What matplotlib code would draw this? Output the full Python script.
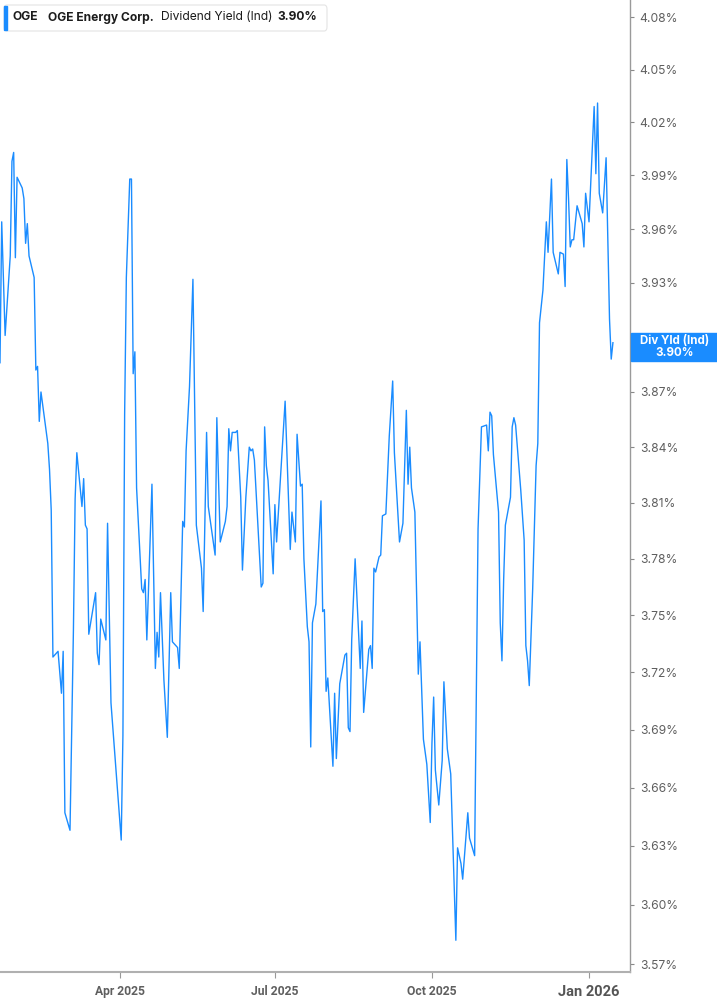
import matplotlib
matplotlib.use("Agg")
import matplotlib.pyplot as plt
import matplotlib.dates as mdates
import numpy as np
import pandas as pd
from matplotlib.patches import Rectangle, FancyBboxPatch
from matplotlib.ticker import FixedLocator, NullLocator

# dividend yield (ind)
dates = [
    "2025-01-21", "2025-01-22", "2025-01-24", "2025-01-27", "2025-01-28", "2025-01-29", "2025-01-30", "2025-01-31",
    "2025-02-03", "2025-02-04", "2025-02-05", "2025-02-06", "2025-02-07", "2025-02-10", "2025-02-11", "2025-02-12",
    "2025-02-13", "2025-02-14", "2025-02-18", "2025-02-19", "2025-02-20", "2025-02-21", "2025-02-24", "2025-02-26",
    "2025-02-27", "2025-02-28", "2025-03-03", "2025-03-05", "2025-03-06", "2025-03-07", "2025-03-10", "2025-03-11",
    "2025-03-12", "2025-03-13", "2025-03-14", "2025-03-18", "2025-03-19", "2025-03-20", "2025-03-21", "2025-03-24",
    "2025-03-25", "2025-03-27", "2025-04-02", "2025-04-03", "2025-04-04", "2025-04-05", "2025-04-07", "2025-04-08",
    "2025-04-09", "2025-04-10", "2025-04-11", "2025-04-14", "2025-04-15", "2025-04-16", "2025-04-17", "2025-04-20",
    "2025-04-22", "2025-04-23", "2025-04-24", "2025-04-25", "2025-04-27", "2025-04-29", "2025-05-01", "2025-05-02",
    "2025-05-05", "2025-05-06", "2025-05-08", "2025-05-09", "2025-05-10", "2025-05-12", "2025-05-14", "2025-05-16",
    "2025-05-19", "2025-05-20", "2025-05-22", "2025-05-23", "2025-05-27", "2025-05-28", "2025-05-30", "2025-06-02",
    "2025-06-03", "2025-06-04", "2025-06-05", "2025-06-06", "2025-06-08", "2025-06-09", "2025-06-11", "2025-06-12",
    "2025-06-14", "2025-06-16", "2025-06-17", "2025-06-18", "2025-06-19", "2025-06-23", "2025-06-24", "2025-06-25",
    "2025-06-26", "2025-06-27", "2025-06-30", "2025-07-01", "2025-07-02", "2025-07-07", "2025-07-10", "2025-07-11",
    "2025-07-13", "2025-07-14", "2025-07-16", "2025-07-17", "2025-07-18", "2025-07-20", "2025-07-21", "2025-07-22",
    "2025-07-23", "2025-07-25", "2025-07-28", "2025-07-29", "2025-07-30", "2025-07-31", "2025-08-01", "2025-08-04",
    "2025-08-05", "2025-08-06", "2025-08-08", "2025-08-11", "2025-08-12", "2025-08-13", "2025-08-14", "2025-08-15",
    "2025-08-17", "2025-08-20", "2025-08-21", "2025-08-22", "2025-08-25", "2025-08-26", "2025-08-27", "2025-08-28",
    "2025-08-29", "2025-08-31", "2025-09-01", "2025-09-02", "2025-09-04", "2025-09-06", "2025-09-08", "2025-09-09",
    "2025-09-12", "2025-09-14", "2025-09-16", "2025-09-17", "2025-09-18", "2025-09-19", "2025-09-21", "2025-09-23",
    "2025-09-24", "2025-09-26", "2025-09-28", "2025-09-30", "2025-10-01", "2025-10-02", "2025-10-03", "2025-10-05",
    "2025-10-07", "2025-10-08", "2025-10-10", "2025-10-12", "2025-10-15", "2025-10-16", "2025-10-18", "2025-10-19",
    "2025-10-22", "2025-10-23", "2025-10-26", "2025-10-28", "2025-10-30", "2025-11-02", "2025-11-03", "2025-11-04",
    "2025-11-05", "2025-11-06", "2025-11-09", "2025-11-10", "2025-11-11", "2025-11-12", "2025-11-13", "2025-11-16",
    "2025-11-17", "2025-11-18", "2025-11-19", "2025-11-22", "2025-11-24", "2025-11-25", "2025-11-26", "2025-11-27",
    "2025-11-29", "2025-12-01", "2025-12-02", "2025-12-03", "2025-12-05", "2025-12-07", "2025-12-08", "2025-12-10",
    "2025-12-11", "2025-12-14", "2025-12-15", "2025-12-17", "2025-12-18", "2025-12-19", "2025-12-20", "2025-12-21",
    "2025-12-22", "2025-12-23", "2025-12-25", "2025-12-28", "2025-12-29", "2025-12-30", "2026-01-01", "2026-01-04",
    "2026-01-05", "2026-01-06", "2026-01-07", "2026-01-09", "2026-01-11", "2026-01-12", "2026-01-13", "2026-01-14",
    "2026-01-15",
]

div_yield = [
    3.886, 3.964, 3.901, 3.945, 3.998, 4.003, 3.944, 3.989, 3.983, 3.977,
    3.952, 3.963, 3.945, 3.933, 3.882, 3.884, 3.854, 3.870, 3.842, 3.828,
    3.806, 3.728, 3.731, 3.709, 3.731, 3.647, 3.638, 3.742, 3.812, 3.837,
    3.808, 3.823, 3.798, 3.796, 3.740, 3.762, 3.730, 3.724, 3.748, 3.737,
    3.799, 3.704, 3.633, 3.687, 3.858, 3.933, 3.988, 3.988, 3.880, 3.892,
    3.818, 3.764, 3.762, 3.769, 3.737, 3.820, 3.722, 3.741, 3.728, 3.762,
    3.716, 3.686, 3.762, 3.736, 3.733, 3.722, 3.800, 3.797, 3.838, 3.873,
    3.932, 3.798, 3.775, 3.752, 3.848, 3.808, 3.782, 3.856, 3.789, 3.800,
    3.808, 3.850, 3.838, 3.848, 3.848, 3.849, 3.813, 3.774, 3.813, 3.840,
    3.838, 3.839, 3.833, 3.765, 3.767, 3.851, 3.830, 3.822, 3.772, 3.809,
    3.789, 3.865, 3.785, 3.805, 3.789, 3.847, 3.819, 3.820, 3.780, 3.744,
    3.736, 3.681, 3.746, 3.756, 3.811, 3.752, 3.753, 3.710, 3.717, 3.671,
    3.709, 3.675, 3.714, 3.729, 3.730, 3.691, 3.689, 3.737, 3.780, 3.722,
    3.747, 3.699, 3.732, 3.734, 3.722, 3.775, 3.773, 3.781, 3.782, 3.803,
    3.804, 3.846, 3.876, 3.837, 3.789, 3.799, 3.860, 3.820, 3.840, 3.818,
    3.805, 3.719, 3.736, 3.685, 3.672, 3.642, 3.683, 3.707, 3.669, 3.651,
    3.674, 3.715, 3.680, 3.667, 3.582, 3.629, 3.621, 3.613, 3.647, 3.634,
    3.625, 3.796, 3.851, 3.852, 3.838, 3.859, 3.857, 3.836, 3.805, 3.746,
    3.726, 3.769, 3.798, 3.813, 3.851, 3.856, 3.852, 3.817, 3.790, 3.734,
    3.726, 3.713, 3.764, 3.830, 3.842, 3.908, 3.926, 3.964, 3.947, 3.988,
    3.947, 3.935, 3.947, 3.946, 3.928, 3.999, 3.977, 3.950, 3.954, 3.954,
    3.973, 3.963, 3.950, 3.980, 3.964, 4.029, 3.991, 4.031, 3.980, 3.969,
    4.000, 3.956, 3.910, 3.888, 3.897,
]

y_ticks = [3.57, 3.60, 3.63, 3.66, 3.69, 3.72, 3.75, 3.78, 3.81, 3.84,
           3.87, 3.90, 3.93, 3.96, 3.99, 4.02, 4.05, 4.08]
x_ticks = ["2025-04-01", "2025-07-01", "2025-10-01", "2026-01-01"]
x_labels = ["Apr 2025", "Jul 2025", "Oct 2025", "Jan 2026"]

ticker = "OGE"
company = "OGE Energy Corp."
metric = "Dividend Yield (Ind)"

BLUE = "#1a8cff"
GREY = "#5f5f5f"
W, H = 717, 1005

x = pd.to_datetime(dates)
fig = plt.figure(figsize=(W / 100, H / 100), dpi=100)
ax = fig.add_axes([0, 33 / H, 630 / W, 1 - 33 / H])

ax.plot(x, div_yield, color=BLUE, lw=1.0)

ax.set_yscale("log")
ax.set_ylim(3.566, 4.090)
ax.set_xlim(pd.Timestamp("2025-01-21"), pd.Timestamp("2026-01-25"))

# the 3.90% label sits under the value tag, so leave it blank
last_val = f"{div_yield[-1]:.2f}"
ax.yaxis.set_major_locator(FixedLocator(y_ticks))
ax.yaxis.set_minor_locator(NullLocator())
ax.set_yticklabels(["" if f"{t:.2f}" == last_val else f"{t:.2f}%" for t in y_ticks])
ax.yaxis.tick_right()
ax.tick_params(axis="y", which="major", length=3, width=0.8, color="#888888",
               pad=4, labelsize=8.7, labelcolor=GREY)
for lab in ax.get_yticklabels():
    lab.set_family(["Inter", "DejaVu Sans"])

ax.set_xticks(pd.to_datetime(x_ticks))
ax.set_xticklabels(x_labels)
ax.xaxis.set_minor_locator(NullLocator())
ax.tick_params(axis="x", length=4, width=0.8, color="#999999", pad=5,
               labelsize=8.7, labelcolor=GREY)
for lab in ax.get_xticklabels():
    lab.set_family(["Liberation Sans Narrow", "Roboto", "DejaVu Sans"])
    lab.set_fontweight("bold")
last = ax.get_xticklabels()[-1]
last.set_fontsize(10.5)
last.set_color("#555555")

for s in ["left", "top"]:
    ax.spines[s].set_visible(False)
ax.spines["right"].set_color("#9a9a9a")
ax.spines["bottom"].set_color("#b0b0b0")
ax.spines["right"].set_linewidth(1.0)
ax.spines["bottom"].set_linewidth(1.5)

# value tag on the right axis
y_pix = ax.transData.transform((mdates.date2num(x[-1]), div_yield[-1]))[1] - 4
fig.add_artist(Rectangle((631 / W, (y_pix - 14) / H), 86 / W, 28 / H,
                         transform=fig.transFigure, color=BLUE, zorder=5))
fig.text(675 / W, y_pix / H, f"Div Yld (Ind)\n{last_val}%",
         ha="center", va="center", color="white", fontsize=8.3,
         fontweight="bold", linespacing=1.0, family=["Inter", "DejaVu Sans"],
         zorder=6)

# legend box
fig.add_artist(FancyBboxPatch((4 / W, 1 - 31 / H), 323 / W, 26 / H,
                              boxstyle="round,pad=0,rounding_size=0.004",
                              transform=fig.transFigure, fc="white",
                              ec="#e4e4e4", lw=0.8, zorder=5))
fig.add_artist(Rectangle((4 / W, 1 - 30 / H), 3 / W, 24 / H,
                         transform=fig.transFigure, color=BLUE, zorder=6))
ly = 1 - 17.5 / H
fig.text(13 / W, ly, ticker, fontsize=8.7, fontweight="bold", color="#1c1c1c",
         va="center", family=["Inter", "DejaVu Sans"], zorder=7)
fig.text(48 / W, ly, company, fontsize=8.7, fontweight="bold", color="#1c1c1c",
         va="center", family=["Inter", "DejaVu Sans"], zorder=7)
fig.text(161 / W, ly, metric, fontsize=8.7, color="#1c1c1c",
         va="center", family=["Inter", "DejaVu Sans"], zorder=7)
fig.text(277 / W, ly, f"{last_val}%", fontsize=8.7, fontweight="bold",
         color="#1c1c1c", va="center", family=["Inter", "DejaVu Sans"], zorder=7)

fig.savefig("out.png", dpi=100, facecolor="white")
